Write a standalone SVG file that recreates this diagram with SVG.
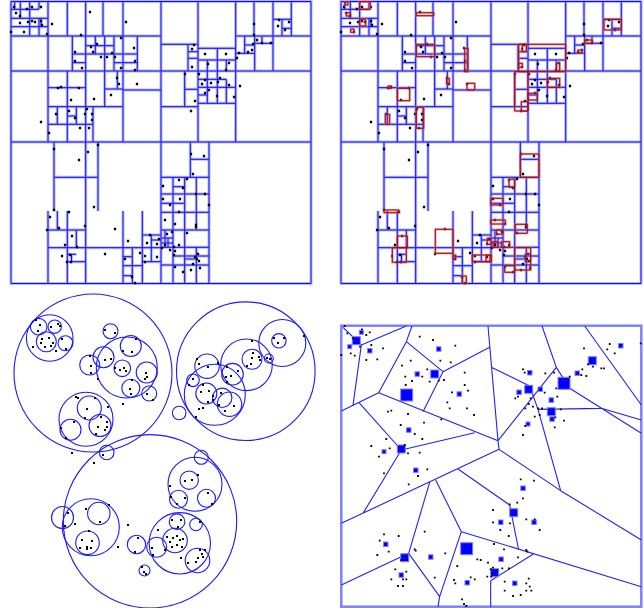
<svg xmlns="http://www.w3.org/2000/svg" xmlns:xlink="http://www.w3.org/1999/xlink" width="644" height="608" viewBox="0 0 644 608">
<style>
.halo{fill:none;stroke:#7f7fff;stroke-width:3;stroke-opacity:0.55}
.core{fill:none;stroke:#0c0cff;stroke-width:1}
.rhalo{fill:none;stroke:#d07070;stroke-width:2.6;stroke-opacity:0.55}
.rcore{fill:none;stroke:#b00000;stroke-width:1}
.dots{fill:none;stroke:#000;stroke-width:2.3;stroke-linecap:square}
.circ{fill:none;stroke:#1a1aff;stroke-width:1.1}
.vor{fill:none;stroke:#2020ff;stroke-width:3.3}
.sq{fill:#0000ff;stroke:#8080ff;stroke-width:1}
.frame{fill:none;stroke:#8080ff;stroke-width:2.5}
</style>
<defs>
<path id="p1lines" d="M11 36H161M11 71H311M11 142H311M161 1.5V283.5M48 1.5V142M85.7 1.5V283.5M123 1.5V142M67.3 1.5V36M103 1.5V36
M11 18.3H48M29.7 1.5V36M20.3 1.5V18.3M11 9.3H29.7M39 1.5V9.3M39 18.3V36M29.7 9.3H39M11 26.7H48M14.7 1.5V9.3M41 18.3V26.7
M72.3 36V71M95.3 36V54M104.7 36V71M114 36V71M137.3 36V71M85.7 45.7H114M72.3 54H137.3M72.3 62.7H85.7M114 62.7H137.3
M104.7 71V107M117.3 71V89M67.3 71V142M48 87.7H85.7M104.7 89H123M123 90H161M48 106.7H123
M57.3 106.7V124.3M76.3 106.7V124.3M93 106.7V142M67.3 116H76.3M48 124.3H93
M198 1.5V142M235.7 1.5V142M254 1.5V36M273 1.5V71M291.3 1.5V36M235.7 36H311M161 44.3H198M198 48.3H235.7M188 44.3V71M188 51.7H198M188 58.3H198M207.3 60V103.3M217.3 48.3V103.3M226.3 60V71M198 60H235.7M244.7 36V53.3M244.7 45H254.7M254.7 36V71M235.7 53.3H254.7M262 36V43.3M254.7 43.3H273M273 19.3H291.3M282 19.3V36M282 28.3H291.3
M184.7 71V106.7M184.7 89.3H198M161 106.7H198M198 79.3H226.3M226.3 79.3V103.3M198 87.3H235.7M198 95H207.3M198 103.3H235.7
M54 142V211M98 142V211M54 177.3H98M48 211V283.5M57.3 211V230M67.3 211V283.5M76.3 230V248M48 230H85.7M48 247.7H161M123 211V283.5M132.3 247.7V283.5M142.3 211V283.5M142.3 235H161M151.3 235V261.7M151.3 240H161M142.3 261.7H161M123 256.7H132.3M123 265.7H142.3M123 275.7H132.3M68 254.3H76.3M67.3 261.7H85.7M71.5 254.3V261.7
M190.3 142V177.3M209 142V283.5M190.3 159.3H209M161 177.3H209M173 177.3V283.5M184.7 177.3V283.5M196.3 177.3V230M173 186.7H184.7M161 194H209M161 203.3H184.7M161 212.3H209M161 230H209M161 247.3H209M173 256H209M196.3 247.3V283.5M161 265H209M161 238H173M161 243H173M165 230V247.3M168 238V247.3M184.7 259H196.3
M11 1.5H311V283.5H11Z"/>
<path id="rb" d="M359.7 1.7h10.6v7.6h-10.6zM346.3 12.7h4v3.3h-4zM359.7 19.3h6v6.7h-6zM350.7 29h3.3v3.3h-3.3zM416.3 12.7h17.4v3h-17.4zM416.3 44.3h18.4v12.4h-18.4zM464.7 48.3h3.3v23.4h-3.3zM446.7 78.3h2.6v5.7h-2.6zM467 83.3h7.7v6.7h-7.7zM397.3 88.3h12.4v12.4h-12.4zM388 86h3.3v2.3h-3.3zM385.3 114.3h4.4v10h-4.4zM416.3 107.3h7.4v21h-7.4zM345 2h3v3h-3zM518.7 44.3h47v27.4h-47zM522.3 44.3h4v7.4h-4zM518.7 63.3h3.6v4h-3.6zM556.3 63.3h3.4v7.7h-3.4zM604 19.3h17.3v10.7h-17.3zM584.7 40h7.6v3.3h-7.6zM578 50h4.3v2.7h-4.3zM514.7 71.7h13.3v39.3h-13.3zM521.3 101.7h6.7v9.3h-6.7zM528 93.3h9.3v6.7h-9.3zM547.3 78.3h12.4v9h-12.4zM384 210h15v2.7h-15zM397.3 236h10v11.7h-10zM392.3 247.7h14v14.6h-14zM435.3 229.3h17.7v24h-17.7zM453 255h2.7v4.3h-2.7zM472.3 255h19v6.7h-19zM487.3 238.3h4v6h-4zM462.3 276h4v7.3h-4zM520.3 154h18.7v23.3h-18.7zM509 179.3h5.7v8h-5.7zM490.7 198.3h12.3v6.7h-12.3zM490.7 220h14.6v4h-14.6zM515.3 224.3h12v9h-12zM496.3 230h6.7v4.3h-6.7zM493 241.7h5v5.6h-5zM501.3 241.7h8.4v5.6h-8.4zM514.7 247.7h16v22.3h-16zM525.3 254h5.4v7.7h-5.4zM504.7 265.7h10v6.6h-10zM486 255h4v6.7h-4z"/>
</defs>
<g id="panel-quadtree">
<use xlink:href="#p1lines" class="halo"/>
<use xlink:href="#p1lines" class="core"/>
<path class="dots" d="M14 7h0M27 9h0M32 7h0M41 7h0M16 13h0M20 16h0M20 23h0M28 22h0M32 21h0M35 22h0M41 21h0M42 25h0M24 32h0M11 32h0M47 34h0M52 24h0M90 12h0M126 22h0M81 35h0M121 38h0M134 48h0M97 44h0M91 47h0M75 52h0M93 52h0M101 57h0M107 57h0M112 53h0M115 57h0M75 61h0M135 61h0M82 68h0M121 68h0M135 70h0M117 78h0M119 84h0M137 84h0M61 87h0M58 88h0M79 88h0M71 100h0M94 99h0M111 95h0M41 122h0M87 109h0M69 111h0M56 114h0M75 118h0M85 114h0M92 114h0M92 120h0M80 128h0M89 128h0M49 133h0
M194 45h0M192 49h0M205 54h0M226 54h0M208 64h0M192 67h0M229 63h0M226 70h0M199 74h0M205 80h0M220 78h0M218 82h0M211 83h0M202 84h0M229 85h0M240 86h0M209 90h0M205 93h0M217 96h0M234 97h0M195 101h0M191 111h0M185 74h0M239 53h0M237 58h0M248 52h0M252 50h0M253 44h0M257 40h0M262 43h0M271 43h0M254 24h0M254 35h0M279 20h0M289 22h0M278 26h0M285 30h0
M54 149h0M88 152h0M79 160h0M98 145h0M94 207h0M54 210h0M69 212h0M50 217h0M47 230h0M59 228h0M72 236h0M85 226h0M115 229h0M128 241h0M65 245h0M77 247h0M62 256h0M70 255h0M71 262h0M67 262h0M105 254h0M125 259h0M140 253h0M145 256h0M147 243h0M157 244h0M157 257h0M159 239h0M150 235h0M145 262h0M132 277h0M135 283h0
M191 154h0M204 156h0M193 174h0M187 179h0M179 180h0M183 188h0M163 186h0M163 199h0M180 199h0M170 205h0M179 212h0M196 194h0M205 194h0M209 205h0M165 220h0M175 224h0M196 225h0M196 227h0M187 233h0M167 234h0M172 232h0M159 239h0M165 245h0M162 248h0M170 250h0M174 247h0M179 245h0M175 251h0M198 254h0M195 257h0M197 259h0M199 261h0M193 264h0M200 268h0M191 270h0M183 272h0M174 255h0M175 267h0"/>
</g>
<g id="panel-rtree">
<use xlink:href="#panel-quadtree" transform="translate(330 0)"/>
<g id="red-boxes">
<use xlink:href="#rb" class="rhalo"/>
<use xlink:href="#rb" class="rcore"/>
</g>
</g>
<g id="panel-balltree">
<g class="circ">
<circle cx="93" cy="373" r="79"/><circle cx="245.8" cy="371.2" r="69.3"/><circle cx="150" cy="521.3" r="86.7"/>
<circle cx="49.7" cy="338" r="23.3"/><circle cx="38.7" cy="326.7" r="8.3"/><circle cx="54.7" cy="326.7" r="6.7"/><circle cx="46.3" cy="341.7" r="10"/><circle cx="65.5" cy="343.3" r="7.5"/>
<circle cx="110.5" cy="331.2" r="7.5"/>
<circle cx="126.8" cy="367.5" r="30.5"/><circle cx="130.8" cy="346" r="10.5"/><circle cx="122.3" cy="368.3" r="8.3"/><circle cx="146.7" cy="372.5" r="10.5"/><circle cx="130.8" cy="388.3" r="9"/><circle cx="103.5" cy="357.2" r="10.5"/><circle cx="89.7" cy="365" r="10"/><circle cx="149.2" cy="393.5" r="7.5"/>
<circle cx="86" cy="419.2" r="27"/><circle cx="89.3" cy="408" r="12"/><circle cx="70.5" cy="429.7" r="10.5"/><circle cx="100" cy="425.5" r="11"/>
<circle cx="282.3" cy="343" r="23.5"/><circle cx="278.9" cy="340.8" r="7.2"/>
<circle cx="246.5" cy="364.8" r="25.8"/><circle cx="252" cy="359.2" r="10"/><circle cx="268.8" cy="358.5" r="4.5"/>
<circle cx="214.8" cy="394.7" r="30.5"/><circle cx="207" cy="366.2" r="12.2"/><circle cx="232.5" cy="374.2" r="10.8"/><circle cx="193" cy="380.3" r="6.3"/><circle cx="206.3" cy="393.5" r="10.5"/><circle cx="222.2" cy="397.8" r="9.7"/><circle cx="229.5" cy="404.2" r="12.2"/><circle cx="179.2" cy="413" r="6.8"/>
<circle cx="106.7" cy="452.5" r="7.3"/>
<circle cx="195" cy="484.2" r="27"/><circle cx="201.3" cy="457.3" r="7"/><circle cx="189.2" cy="480.2" r="9.2"/><circle cx="206.5" cy="498.3" r="9"/><circle cx="178.5" cy="499.2" r="9"/>
<circle cx="90.8" cy="527.2" r="28.5"/><circle cx="62.5" cy="517.5" r="11"/><circle cx="98.8" cy="513.5" r="11.2"/><circle cx="87.5" cy="542.8" r="11.8"/>
<circle cx="179.8" cy="543.3" r="30.7"/><circle cx="177" cy="521.7" r="7.8"/><circle cx="196" cy="524.5" r="6.3"/><circle cx="175" cy="540.5" r="12.3"/><circle cx="156.7" cy="547.3" r="10"/><circle cx="197.5" cy="560.5" r="12.3"/>
<circle cx="136.5" cy="544.5" r="9.2"/><circle cx="144.5" cy="570.5" r="5.5"/>
</g>
<path class="dots" style="stroke-width:2" d="M36 320h0M40 325h0M38 331h0M58 324h0M51 327h0M60 326h0M42 339h0M41 343h0M45 347h0M49 338h0M53 343h0M51 346h0M62 339h0M66 349h0M56 351h0M33 347h0M105 330h0M115 333h0M123 351h0M132 352h0M136 339h0M90 356h0M91 366h0M91 373h0M105 360h0M111 359h0M98 379h0M115 368h0M120 370h0M124 368h0M126 371h0M146 373h0M145 379h0M147 377h0M132 380h0M130 389h0M131 394h0M147 394h0M153 400h0M123 404h0M76 397h0M78 398h0M95 398h0M87 409h0M108 407h0M85 418h0M74 422h0M101 417h0M107 422h0M107 427h0M105 430h0M61 428h0M66 438h0M96 434h0M98 427h0
M274 338h0M284 338h0M278 343h0M304 336h0M252 341h0M253 353h0M259 357h0M260 360h0M252 358h0M251 364h0M247 366h0M267 358h0M270 359h0M197 359h0M199 364h0M218 363h0M208 367h0M227 367h0M238 371h0M226 377h0M231 376h0M227 382h0M193 379h0M189 385h0M203 385h0M209 391h0M201 392h0M213 396h0M213 400h0M208 402h0M221 393h0M219 405h0M225 411h0M234 406h0M199 409h0M203 408h0M196 417h0
M103 455h0M94 463h0M72 453h0M185 481h0M192 480h0M198 475h0M170 486h0M208 493h0M212 504h0M171 497h0M177 504h0M185 498h0M86 509h0M68 513h0M65 526h0M75 524h0M100 522h0M109 505h0M89 531h0M82 540h0M92 541h0M80 548h0M87 547h0M87 549h0M91 548h0M128 525h0M118 547h0M138 538h0M135 552h0M142 567h0M144 572h0M146 574h0M172 520h0M181 520h0M178 527h0M200 522h0M158 530h0M167 537h0M170 542h0M173 538h0M177 536h0M180 540h0M183 539h0M172 547h0M177 545h0M182 547h0M152 548h0M153 555h0M165 550h0M181 558h0M200 550h0M202 554h0M203 557h0M198 558h0M196 562h0M205 550h0M188 563h0"/>
</g>
<g id="panel-voronoi">
<rect class="frame" x="341.3" y="325.7" width="300" height="281"/>
<g transform="translate(338 320) scale(0.33333)">
<path class="vor" d="M205 18L70 75M70 75L15 22M70 75L45 256M10 273L122 218M63 248L190 390M122 218L205 65M205 65L222 18M205 65L315 155M315 155L455 82M315 155L255 275M122 218L480 362M450 18L480 362M480 362L483 388M190 390L410 338M190 390L75 580M10 610L483 388M483 388L668 512M360 447L515 555M515 555L542 690M668 512L910 660M600 268L668 512M480 362L655 142M460 142L575 198M575 198L600 268M600 268L790 265M612 18L655 142M655 142L695 205M695 205L910 340M740 18L910 255M790 265L910 300M275 487L212 700M212 700L10 795M212 700L305 830M305 830L300 860M305 830L370 635M293 480L370 635M370 635L910 800M585 703L458 782M458 782L458 860"/>
</g>
<g class="sq">
<rect x="352.3" y="336.7" width="8" height="8"/><rect x="347.7" y="344.7" width="4" height="4"/><rect x="359.3" y="330.3" width="4" height="4"/><rect x="367.5" y="348.5" width="4.5" height="4.5"/><rect x="436.5" y="346.8" width="4.5" height="4.5"/><rect x="430.7" y="370" width="8" height="8"/><rect x="415" y="371.8" width="4.5" height="4.5"/><rect x="400.7" y="389" width="12" height="12"/><rect x="457" y="391.8" width="4.5" height="4.5"/><rect x="406.5" y="427.8" width="4.5" height="4.5"/><rect x="397.3" y="445" width="8" height="8"/><rect x="382" y="449.7" width="4" height="4"/><rect x="413.5" y="468" width="4.5" height="4.5"/>
<rect x="527.5" y="370.5" width="4.5" height="4.5"/><rect x="524.7" y="385.3" width="8" height="8"/><rect x="516.8" y="390" width="4.5" height="4.5"/><rect x="538" y="387" width="4.5" height="4.5"/><rect x="558" y="377.3" width="12" height="12"/><rect x="575" y="371" width="4.5" height="4.5"/><rect x="588.3" y="356.7" width="8" height="8"/><rect x="618.5" y="343.5" width="4.5" height="4.5"/><rect x="549" y="397.8" width="4.5" height="4.5"/><rect x="547.3" y="407.7" width="8" height="8"/><rect x="549.8" y="416.8" width="4.5" height="4.5"/><rect x="526" y="422" width="4" height="4"/>
<rect x="520.8" y="486" width="4.5" height="4.5"/><rect x="509.7" y="508.7" width="8" height="8"/><rect x="498.5" y="520" width="4.5" height="4.5"/><rect x="531.8" y="520" width="4.5" height="4.5"/><rect x="460.7" y="542.7" width="12" height="12"/><rect x="498.8" y="557" width="4.5" height="4.5"/><rect x="490.7" y="568.7" width="8" height="8"/><rect x="512.5" y="581" width="4.5" height="4.5"/><rect x="465" y="580.5" width="4.5" height="4.5"/><rect x="400.7" y="553.7" width="8" height="8"/><rect x="383.5" y="542" width="4.5" height="4.5"/><rect x="399" y="572.8" width="4.5" height="4.5"/><rect x="428.5" y="554.8" width="4.5" height="4.5"/>
</g>
<path class="dots" style="stroke-width:1.8" d="M344.7 326h0M347.3 333.3h0M353 338.3h0M362 329.3h0M369.7 332.3h0M366.3 335h0M371.3 345h0M383 348.3h0M350.7 353.3h0M354.7 355.7h0M341.3 355h0M366.3 360h0M377.3 359.3h0M360 346.7h0M419.7 336.7h0M433 340h0M455.3 345.7h0M440.3 360.7h0M450.7 362.3h0M402 365.7h0M410.7 360.7h0M427.3 369.3h0M405.3 376.7h0M422.3 376.7h0M438.7 380.7h0M444 380h0M464.7 372.7h0M412 381h0M405.7 385h0M429.7 381.7h0M464.7 385h0M468 390.7h0M452 392.3h0M467 408.3h0M447.3 402.3h0M449.7 408.3h0M474 415h0M441.3 419.3h0M391.3 410.7h0M388 411.7h0M408 414h0M400.7 425h0M414.7 434h0M422.3 439h0M386.3 439h0M371.3 446h0M389.7 448.3h0M379 456.7h0M404.7 445h0M419.7 452.7h0M408 453.3h0M424 422.7h0M418 476h0M427.3 469.3h0M384 473.3h0M408.7 484.3h0
M523 369.3h0M524.7 372.7h0M545.3 373.3h0M515.3 398.3h0M518 396.7h0M530.7 398.3h0M528.7 404h0M533 406.7h0M525.3 408.3h0M534.7 416.7h0M539.7 415h0M538 408.3h0M542 408.3h0M560.7 409.3h0M555.3 417.3h0M564 420.7h0M554.7 427.3h0M525.3 426h0M523 435h0M544.7 392.7h0M557.3 396.7h0M556.3 388.3h0M567.3 382.3h0M569.7 376.7h0M584 348.3h0M582.3 369.3h0M588 364.3h0M593 366.7h0M601.3 368.3h0M604 368.3h0M607.3 349.3h0M609.7 344h0M614.7 353.3h0M640.7 343.3h0M586.3 376h0M581.3 375h0M554 372.7h0
M520.7 479.3h0M534 480.7h0M523 498.3h0M493 510h0M509.7 504.3h0M517.3 502.7h0M493 522.3h0M510 523.3h0M526.3 519.3h0M534.7 519.3h0M539.7 530h0M500.3 530h0M508.7 536h0M494 544h0M504 549.3h0M518 557.3h0M526.3 550h0M527.3 551.7h0M477.3 559.3h0M480.7 560h0M488 562.7h0M493 567.7h0M490.7 569.3h0M497.3 570.7h0M502.3 568.3h0M509 568.3h0M487.3 576.7h0M457.3 566h0M470.7 577.3h0M474.7 579.3h0M454 580h0M455.3 583.3h0M504.7 581.7h0M504.7 590.7h0M513 596h0M520.7 595h0M526.3 583.3h0M528.7 578.7h0M529.7 586.7h0M526.3 590.7h0M531.3 590.7h0M462 599.3h0M464 604h0M466.3 606h0M424.7 531.7h0M445.3 553.3h0M434.7 577.7h0M414.7 549.3h0M415.7 550.7h0M384 534.3h0M379.7 540.7h0M398.7 536h0M388.7 551.7h0M377.3 555h0M401.3 560h0M407.3 560h0M395.3 569.3h0M406.3 571.7h0M391.3 579.3h0M403 579.3h0M406.3 579.3h0M398 586h0M403 586h0M492 573.3h0M491.3 576.7h0"/>
</g>
</svg>
